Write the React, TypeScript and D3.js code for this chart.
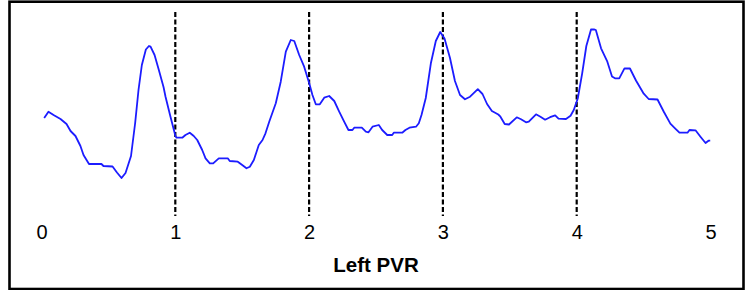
import { useEffect, useRef } from 'react';
import * as d3 from 'd3';

// time (s) and amplitude
const times = [
  0.020, 0.052, 0.090, 0.142, 0.187, 0.217, 0.254, 0.291, 0.314, 0.355,
  0.448, 0.463, 0.531, 0.564, 0.598, 0.628, 0.669, 0.700, 0.725, 0.750,
  0.780, 0.803, 0.815, 0.845, 0.877, 0.912, 0.927, 0.964, 1.001, 1.009,
  1.052, 1.076, 1.108, 1.138, 1.164, 1.201, 1.226, 1.258, 1.283, 1.325,
  1.392, 1.407, 1.467, 1.500, 1.532, 1.557, 1.587, 1.624, 1.652, 1.674,
  1.702, 1.751, 1.788, 1.826, 1.863, 1.889, 1.926, 1.963, 2.001, 2.025,
  2.050, 2.080, 2.113, 2.150, 2.188, 2.225, 2.262, 2.294, 2.324, 2.337,
  2.394, 2.424, 2.444, 2.474, 2.521, 2.546, 2.584, 2.621, 2.633, 2.696,
  2.720, 2.750, 2.799, 2.820, 2.840, 2.872, 2.910, 2.947, 2.980, 3.012,
  3.053, 3.090, 3.128, 3.165, 3.203, 3.261, 3.296, 3.330, 3.366, 3.414,
  3.430, 3.462, 3.494, 3.552, 3.584, 3.621, 3.642, 3.696, 3.729, 3.764,
  3.801, 3.839, 3.864, 3.920, 3.954, 3.978, 4.008, 4.041, 4.072, 4.107,
  4.129, 4.143, 4.182, 4.229, 4.264, 4.286, 4.318, 4.357, 4.398, 4.443,
  4.501, 4.538, 4.604, 4.650, 4.700, 4.735, 4.768, 4.828, 4.843, 4.888,
  4.925, 4.963, 4.985, 4.998,
];
const amplitude = [
  72, 78.3, 75, 71, 66, 59, 54, 44, 35, 26,
  26, 24, 23.5, 17.5, 12, 17, 34, 67, 100, 125,
  140.5, 144, 143.3, 135, 120, 103, 93.3, 73.3, 54, 52.3,
  52.3, 55, 57.3, 54, 50, 40, 31.7, 26.7, 26.7, 31.7,
  31.7, 29, 28.3, 25, 21.7, 23.3, 30, 45, 50, 56.7,
  68.3, 86.7, 108.3, 138.3, 150, 149, 135, 123.3, 106.7, 95,
  85.7, 85.7, 92.3, 94, 89, 78.3, 68.3, 60, 60, 62.3,
  62.3, 58.3, 57.7, 63.3, 65, 60, 55, 55, 57.3, 57.3,
  60, 62.3, 63.3, 66.7, 75, 92, 126.7, 149, 158, 151.5,
  132, 109, 95, 90.7, 93.3, 100.8, 96, 86, 79, 75.5,
  73.3, 66, 65.5, 72.7, 70.7, 67.7, 68.3, 75.7, 73.3, 70.3,
  72.8, 74.7, 71.3, 71, 74.2, 80, 91.5, 116.7, 144, 160.5,
  160.7, 160, 141.7, 128.3, 113.5, 111.7, 111.7, 121.7, 121.5, 109.5,
  96.3, 91, 90.5, 78.5, 66.4, 61.7, 57.3, 57.3, 60, 59.7,
  53.3, 47, 49.3, 49.3,
];
const xTicks = [0, 1, 2, 3, 4, 5];
const beatMarks = [1, 2, 3, 4];
const title = 'Left PVR';

export default function App() {
  const svgRef = useRef<SVGSVGElement>(null);

  useEffect(() => {
    if (!svgRef.current) return;
    const W = 751, H = 290;
    const svg = d3.select(svgRef.current).attr('width', W).attr('height', H);
    svg.selectAll('*').remove();

    const x = d3.scaleLinear().domain([0, 5]).range([41.5, 710.5]);
    const y = d3.scaleLinear().domain([0, 180]).range([190, 10]);

    // frame
    svg.append('rect')
      .attr('x', 9.5).attr('y', 1.7).attr('width', 734).attr('height', 287.3)
      .attr('fill', '#fff').attr('stroke', '#000').attr('stroke-width', 2.6);

    // beat markers
    svg.append('g').selectAll('line')
      .data(beatMarks)
      .enter().append('line')
      .attr('x1', d => x(d)).attr('x2', d => x(d))
      .attr('y1', 12).attr('y2', 216)
      .attr('stroke', '#000').attr('stroke-width', 2.2)
      .attr('stroke-dasharray', '5,2.5');

    // axis labels
    svg.append('g')
      .attr('transform', 'translate(0,222)')
      .call(d3.axisBottom(x).tickValues(xTicks).tickSize(0).tickPadding(0).tickFormat(d => String(d)))
      .call(gg => gg.select('.domain').remove())
      .call(gg => gg.selectAll('text')
        .attr('font-family', 'Liberation Sans, Arial, sans-serif')
        .attr('font-size', 20).attr('fill', '#000').attr('dy', '0.85em'));

    svg.append('text')
      .attr('x', 376).attr('y', 272)
      .attr('text-anchor', 'middle')
      .attr('font-family', 'Liberation Sans, Arial, sans-serif')
      .attr('font-weight', 'bold').attr('font-size', 20.5)
      .text(title);

    const pts = times.map((t, i) => [t, amplitude[i]] as [number, number]);
    const line = d3.line<[number, number]>().x(d => x(d[0])).y(d => y(d[1]));
    svg.append('path')
      .attr('d', line(pts)!)
      .attr('fill', 'none').attr('stroke', '#1c1cff').attr('stroke-width', 1.8)
      .attr('stroke-linejoin', 'round');
  }, []);

  return (
    <svg ref={svgRef} style={{ position: 'absolute', left: 0, top: 0, display: 'block' }} />
  );
}
